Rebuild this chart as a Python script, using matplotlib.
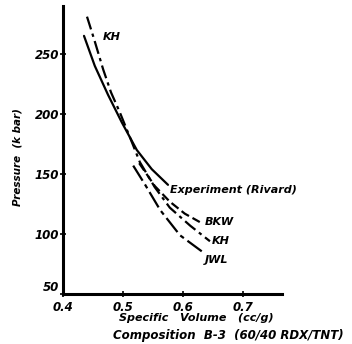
import matplotlib.pyplot as plt

# Specific volume (cc/g) vs pressure (k bar)
exp_v = [0.435, 0.453, 0.475, 0.498, 0.523, 0.548, 0.575]
exp_p = [265, 240, 216, 193, 170, 154, 141]

kh_v = [0.440, 0.452, 0.467, 0.480, 0.495, 0.512, 0.528, 0.553, 0.578, 0.612, 0.645]
kh_p = [281, 262, 237, 218, 201, 180, 160, 139, 122, 107, 94]

bkw_v = [0.527, 0.553, 0.578, 0.603, 0.628]
bkw_p = [159, 140, 127, 117, 110]

jwl_v = [0.517, 0.537, 0.562, 0.595, 0.633]
jwl_p = [157, 141, 120, 99, 85]

x_ticks = [0.4, 0.5, 0.6, 0.7]
x_tick_labels = ["0.4", "0.5", "0.6", "0.7"]
y_ticks = [50, 100, 150, 200, 250]

font = dict(fontweight="bold", fontstyle="italic", family="DejaVu Sans")

fig = plt.figure(figsize=(3.52, 3.44), dpi=100)
ax = fig.add_axes([0.179, 0.145, 0.622, 0.838])

ax.plot(exp_v, exp_p, color="black", lw=1.6, solid_capstyle="round")
ax.plot(kh_v, kh_p, color="black", lw=1.6, dashes=(6, 2, 1.5, 2))
ax.plot(bkw_v, bkw_p, color="black", lw=1.6, dashes=(4, 1.8))
ax.plot(jwl_v, jwl_p, color="black", lw=1.6, dashes=(8, 2, 2, 2))

ax.set_xlim(0.4, 0.765)
ax.set_ylim(50, 290)
for s in ["top", "right"]:
    ax.spines[s].set_visible(False)
for s in ["left", "bottom"]:
    ax.spines[s].set_linewidth(2.2)

ax.set_xticks(x_ticks)
ax.set_xticklabels(x_tick_labels, fontsize=8.5, **font)
ax.set_yticks(y_ticks)
ax.set_yticklabels([str(v) for v in y_ticks], fontsize=8.5, **font)
ax.tick_params(direction="inout", length=4, width=1.2, pad=1)
ax.tick_params(axis="x", pad=3)
# lift the "50" a touch so it clears the "0.4" below the corner
ax.get_yticklabels()[0].set_va("bottom")

# curve labels
ax.text(0.466, 264, "KH", fontsize=8, va="center", **font)
ax.text(0.578, 137, "Experiment (Rivard)", fontsize=8, va="center", **font)
ax.text(0.636, 110, "BKW", fontsize=8, va="center", **font)
ax.text(0.648, 94, "KH", fontsize=8, va="center", **font)
ax.text(0.636, 78, "JWL", fontsize=8, va="center", **font)

fig.text(18 / 352, 1 - 157 / 344, "Pressure  (k bar)", rotation=90,
         ha="center", va="center", fontsize=7.5, **font)
fig.text(196 / 352, 1 - 318 / 344, "Specific   Volume   (cc/g)",
         ha="center", va="center", fontsize=8, **font)
fig.text(228 / 352, 1 - 335 / 344, "Composition  B-3  (60/40 RDX/TNT)",
         ha="center", va="center", fontsize=8.5, **font)

fig.savefig("out.png", dpi=100)
